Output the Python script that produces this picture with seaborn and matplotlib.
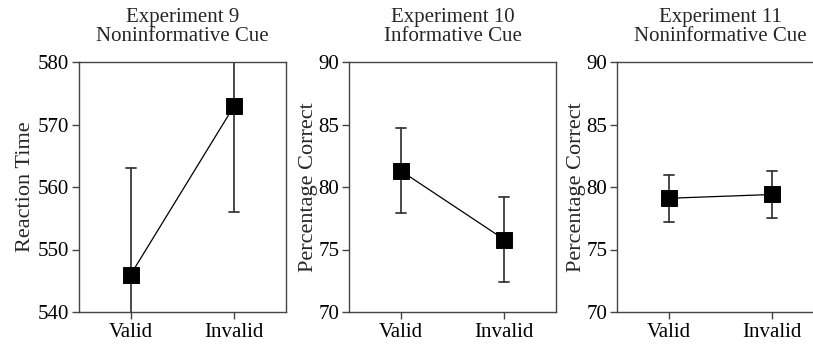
import matplotlib
matplotlib.use("Agg")
import matplotlib.pyplot as plt
import seaborn as sns
import pandas as pd

# ---- data ----
conditions = ["Valid", "Invalid"]
titles = ["Experiment 9\nNoninformative Cue",
          "Experiment 10\nInformative Cue",
          "Experiment 11\nNoninformative Cue"]
ylabels = ["Reaction Time", "Percentage Correct", "Percentage Correct"]
exp9_means = [546.0, 573.0]
exp9_err = [17.0, 17.0]
exp10_means = [81.3, 75.8]
exp10_err = [3.4, 3.4]
exp11_means = [79.1, 79.4]
exp11_err = [1.9, 1.9]
ylims = [(540, 580), (70, 90), (70, 90)]
yticks = [[540, 550, 560, 570, 580], [70, 75, 80, 85, 90], [70, 75, 80, 85, 90]]

sns.set_theme(style="ticks")
plt.rcParams["font.family"] = ["Liberation Serif", "DejaVu Serif"]

W, H = 813, 345
fig = plt.figure(figsize=(W / 100, H / 100), dpi=100)

lefts = [79, 349, 617]
ax_w, ax_top, ax_bot = 207, 62, 312

series = [(exp9_means, exp9_err), (exp10_means, exp10_err), (exp11_means, exp11_err)]

for i, (means, errs) in enumerate(series):
    ax = fig.add_axes([lefts[i] / W, (H - ax_bot) / H, ax_w / W, (ax_bot - ax_top) / H])
    # small table whose min/max give the error bar ends and median gives the point
    rows = []
    for c, m, e in zip(conditions, means, errs):
        rows += [{"cond": c, "val": m - e}, {"cond": c, "val": m}, {"cond": c, "val": m + e}]
    df = pd.DataFrame(rows)
    sns.pointplot(data=df, x="cond", y="val", order=conditions, estimator="median",
                  errorbar=("pi", 100), color="black", markers="s", markersize=11,
                  linewidth=0.9, capsize=0.1,
                  err_kws={"color": "#3a3a3a", "linewidth": 1.3}, ax=ax)
    for ln in ax.lines:
        if ln.get_marker() == "s":
            ln.set_zorder(5)
    ax.set_xlim(-0.5, 1.5)
    ax.set_ylim(*ylims[i])
    ax.set_yticks(yticks[i])
    ax.set_xlabel("")
    ax.set_ylabel(ylabels[i], fontsize=16, labelpad=2 if i == 0 else 0)
    ax.set_title(titles[i], fontsize=15, linespacing=1.0, pad=15)
    for s in ax.spines.values():
        s.set_visible(True)
        s.set_color("#444444")
        s.set_linewidth(1.0)
    ax.tick_params(axis="both", direction="out", length=5, width=1.0, color="#444444",
                   labelsize=15, pad=2, labelcolor="black")
    ax.tick_params(axis="x", pad=3)

fig.savefig("out.png", dpi=100)
